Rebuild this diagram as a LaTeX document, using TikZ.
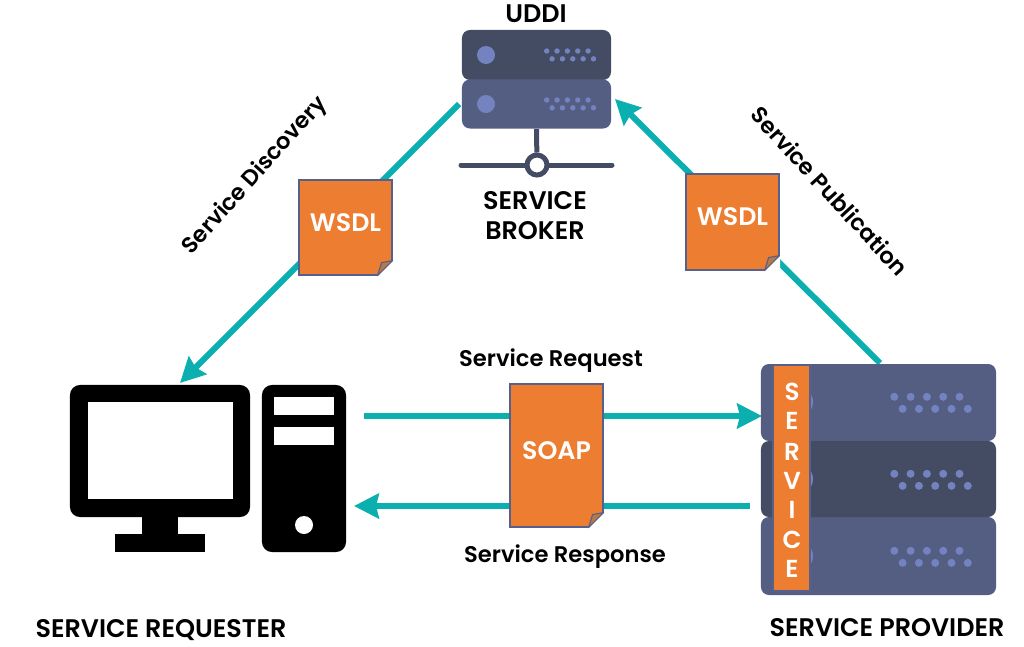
\documentclass[tikz,border=0pt]{standalone}
\usepackage{fontspec}
\setmainfont{Poppins}[BoldFont={Poppins SemiBold}]
\usetikzlibrary{arrows.meta, calc, backgrounds}
\definecolor{inkteal}{HTML}{0BAFB0}
\definecolor{inkorange}{HTML}{ED7D31}
\definecolor{inkfold}{HTML}{B87A45}
\definecolor{inkedge}{HTML}{56608C}
\definecolor{rackdark}{HTML}{444C63}
\definecolor{racklight}{HTML}{545D82}
\definecolor{rackdot}{HTML}{7483C0}
\tikzset{
  link/.style={inkteal, line width=0.15cm, -{Stealth[length=0.62cm, width=0.62cm, inset=0.07cm]}},
  caption/.style={font=\fontsize{16.1}{21.3}\selectfont\bfseries, text=black, align=center, inner sep=0pt},
  bigcaption/.style={caption, font=\fontsize{18.1}{21.3}\selectfont\bfseries},
  docbox/.style={draw=inkedge, fill=inkorange, line width=0.8pt, text=white, inner sep=0pt,
    font=\fontsize{18}{21}\selectfont\bfseries},
  rackrow/.style={rounded corners=0.2cm, inner sep=0pt},
  blackpart/.style={fill=black, rounded corners=0.25cm, inner sep=0pt},
  slot/.style={fill=white, inner sep=0pt},
}
% two staggered rows of five lamps
\newcommand{\lamps}[5]{%
  \foreach \i in {0,1,...,4}{%
    \fill[rackdot] (#1+\i*#3,#2) circle (#4);
    \fill[rackdot] (#1+#5+\i*#3,#2+#5*1.45) circle (#4);}}
% turned-up corner of a page
\newcommand{\pagefold}[1]{%
  \fill[white] ($(#1.south east)+(-15,0.6)$) -- ($(#1.south east)+(0.6,0.6)$) -- ($(#1.south east)+(0.6,-15)$) -- cycle;
  \draw[inkedge, line width=0.8pt, fill=inkfold, line join=round]
    ($(#1.south east)+(-15,0)$) -- ($(#1.south east)+(-11,-13)$) -- ($(#1.south east)+(0,-15)$) -- cycle;}

\begin{document}
\begin{tikzpicture}[x=0.025cm, y=-0.025cm]
    \useasboundingbox (0,0) rectangle (1024,646);
    \begin{scope}[on background layer]
      \fill[white] (0,0) rectangle (1024,646);
    \end{scope}

    \node[rackrow, fill=rackdark, minimum width=3.725cm, minimum height=1.25cm] (brokertop) at (536.5,55) {};
    \node[rackrow, fill=racklight, minimum width=3.725cm, minimum height=1.225cm] (brokerlow) at (536.5,104) {};
    \foreach \y in {55,104}{%
      \fill[rackdot] (486,\y) circle (9);
      \lamps{546.7}{\y-4}{10.35}{2.7}{5.4}}
    \coordinate (busleft) at (461,165);
    \coordinate (busright) at (612,165);
    \node[circle, draw=rackdark, fill=white, line width=0.125cm, minimum size=0.5cm, inner sep=0pt] (hub) at (537,165) {};
    \begin{scope}[on background layer]
      \draw[rackdark, line width=0.125cm, line cap=round] (busleft) -- (hub) -- (busright);
      \draw[rackdark, line width=0.125cm] (brokerlow.south) -- (hub);
    \end{scope}

    \node[rackrow, fill=racklight, minimum width=5.875cm, minimum height=1.925cm] (providertop) at (878.5,402.5) {};
    \node[rackrow, fill=racklight, minimum width=5.875cm, minimum height=1.95cm] (providerlow) at (878.5,556) {};
    \node[rackrow, fill=rackdark, minimum width=5.875cm, minimum height=1.9cm] (providermid) at (878.5,479) {};
    \foreach \y in {402,479,556}{%
      \fill[rackdot] (798,\y) circle (15);
      \lamps{894.3}{\y-5.2}{16.3}{4}{8.3}}
    \node[draw=inkedge, fill=inkorange, line width=0.8pt, minimum width=0.925cm, minimum height=5.65cm, inner sep=0pt] (band) at (791.5,478) {};
    \foreach \c/\y in {S/392,E/421,R/452,V/481,I/510,C/540,E/569}{%
      \node[font=\fontsize{17.5}{21}\selectfont\bfseries, text=white, inner sep=0pt] (band\y) at (792,\y) {\c};}

    \node[blackpart, minimum width=4.5cm, minimum height=3.3cm] (monitor) at (160,451) {};
    \node[slot, minimum width=3.625cm, minimum height=2.425cm] (screen) at (160.5,450.5) {};
    \node[fill=black, inner sep=0pt, minimum width=0.9cm, minimum height=0.5cm] (stand) at (160,525) {};
    \node[fill=black, inner sep=0pt, minimum width=2.25cm, minimum height=0.45cm] (base) at (160,543) {};
    \node[blackpart, minimum width=2.1cm, minimum height=4.175cm] (tower) at (304,468.5) {};
    \node[slot, minimum width=1.5cm, minimum height=0.45cm] (bayone) at (304,406) {};
    \node[slot, minimum width=1.5cm, minimum height=0.45cm] (baytwo) at (304,436) {};
    \node[slot, circle, minimum size=0.45cm] (button) at (304,525) {};

    \node[docbox, minimum width=2.325cm, minimum height=2.375cm] (wsdlleft) at (345.5,227.5) {\raisebox{7.5pt}{WSDL}};
    \node[docbox, minimum width=2.325cm, minimum height=2.4cm] (wsdlright) at (732.5,222) {\raisebox{7.5pt}{WSDL}};
    \node[docbox, minimum width=2.325cm, minimum height=3.575cm] (soap) at (556.5,455.5) {\raisebox{6.5pt}{SOAP}};
    \pagefold{wsdlleft}
    \pagefold{wsdlright}
    \pagefold{soap}

    \coordinate (discoverytip) at (180,383);
    \coordinate (publishtip) at (615,99);
    \coordinate (requestfoot) at (364,416);
    \coordinate (requesttip) at (762,416);
    \coordinate (responsefoot) at (750,506);
    \coordinate (responsetip) at (354,506);
    \coordinate (discoveryfoot) at (459,104);
    \coordinate (publishfoot) at (880,363);
    \begin{scope}[on background layer]
      \draw[link] (discoveryfoot) -- (discoverytip);
      \draw[link] (publishfoot) -- (publishtip);
      \draw[link] (requestfoot) -- (requesttip);
      \draw[link] (responsefoot) -- (responsetip);
    \end{scope}

    \node[bigcaption] (uddi) at (536,14) {UDDI};
    \node[bigcaption] (brokername) at (535,216) {SERVICE\\BROKER};
    \node[caption] (request) at (551,361) {Service Request};
    \node[caption] (response) at (565,557) {Service Response};
    \node[bigcaption] (requester) at (161,630) {SERVICE REQUESTER};
    \node[bigcaption] (provider) at (887,628) {SERVICE PROVIDER};
    \node[caption, rotate=48] (discovery) at (255,176) {Service Discovery};
    \node[caption, rotate=-47.5] (publication) at (830,191) {Service Publication};
  \end{tikzpicture}
\end{document}
